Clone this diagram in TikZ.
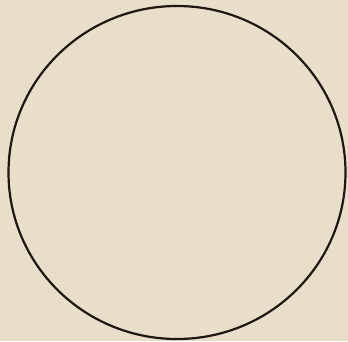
\documentclass[tikz,border=0pt]{standalone}
\definecolor{paper}{HTML}{E8DEC9}
\definecolor{ink}{HTML}{1E1712}
\tikzset{orbit/.style={draw=ink, line width=2.2pt}}
\begin{document}
\begin{tikzpicture}[x=1pt,y=-1pt]
\fill[paper] (0,0) rectangle (348,341);
\useasboundingbox (0,0) rectangle (348,341);
\coordinate (c) at (177,172.5);
\draw[orbit] (c) ellipse [x radius=168.5, y radius=166.5];
\end{tikzpicture}
\end{document}
